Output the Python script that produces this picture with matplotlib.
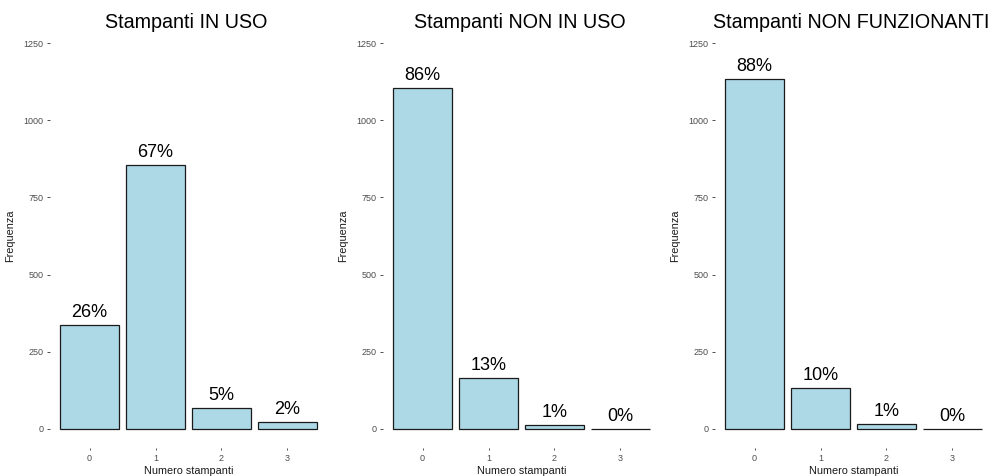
import matplotlib
matplotlib.use("Agg")
import matplotlib.pyplot as plt

plt.rcParams['font.family'] = ['Liberation Sans', 'DejaVu Sans']

categorie = ["0", "1", "2", "3"]
titoli = ["Stampanti IN USO", "Stampanti NON IN USO", "Stampanti NON FUNZIONANTI"]
in_uso = [337, 856, 68, 21]
non_in_uso = [1104, 165, 13, 0]
non_funzionanti = [1133, 133, 16, 0]
serie = [in_uso, non_in_uso, non_funzionanti]
y_ticks = [0, 250, 500, 750, 1000, 1250]

W, H = 995, 476
fig = plt.figure(figsize=(W / 100, H / 100), dpi=100)

# left edge of each panel in pixels
lefts = [50, 383, 715]
pw, top, bottom = 277, 24, 448

for left, titolo, valori in zip(lefts, titoli, serie):
    ax = fig.add_axes([left / W, (H - bottom) / H, pw / W, (bottom - top) / H])
    x = range(len(categorie))
    ax.bar(x, valori, width=0.9, color="#ADD8E6", edgecolor="#1a1a1a", linewidth=0.9)
    totale = sum(valori)
    for xi, v in zip(x, valori):
        ax.annotate(f"{round(100 * v / totale)}%", (xi, v), xytext=(0, 3),
                    textcoords="offset points", ha="center", va="bottom",
                    fontsize=13, color="black")
    ax.set_xlim(-0.6, 3.6)
    ax.set_ylim(-62.5, 1312.5)
    ax.set_xticks(list(x))
    ax.set_xticklabels(categorie)
    ax.set_yticks(y_ticks)
    for s in ax.spines.values():
        s.set_visible(False)
    ax.tick_params(axis="both", labelsize=6.5, labelcolor="#4D4D4D", color="#333333",
                   length=2.5, width=0.6, pad=2)
    ax.tick_params(axis="x", length=1.5, pad=3)
    ax.set_xlabel("Numero stampanti", fontsize=7.8, color="#1a1a1a", labelpad=2)
    ax.set_ylabel("Frequenza", fontsize=7.8, color="#1a1a1a")
    ax.yaxis.set_label_coords(-35 / pw, 0.5)
    # title centred over the panel
    fig.text((left + pw / 2 - 2) / W, 1 - 28.5 / H, titolo, ha="center", va="baseline",
             fontsize=14.2, color="black")

fig.savefig("out.png", dpi=100)
